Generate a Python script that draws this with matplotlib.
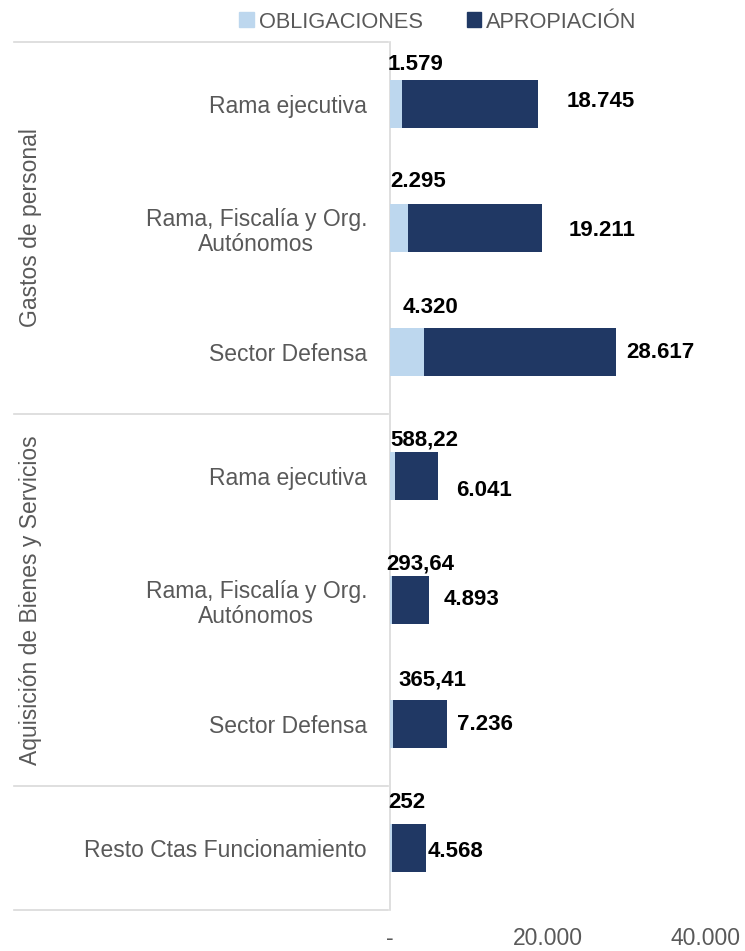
import numpy as np
import matplotlib.pyplot as plt
from matplotlib.patches import Patch
from matplotlib.transforms import blended_transform_factory

# data
categories = ["Rama ejecutiva", "Rama, Fiscalía y Org.\nAutónomos", "Sector Defensa",
              "Rama ejecutiva", "Rama, Fiscalía y Org.\nAutónomos", "Sector Defensa",
              "Resto Ctas Funcionamiento"]
obligaciones = [1579, 2295, 4320, 588.22, 293.64, 365.41, 252]
apropiacion = [18745, 19211, 28617, 6041, 4893, 7236, 4568]
obl_labels = ["1.579", "2.295", "4.320", "588,22", "293,64", "365,41", "252"]
apr_labels = ["18.745", "19.211", "28.617", "6.041", "4.893", "7.236", "4.568"]
groups = ["Gastos de personal", "Aquisición de Bienes y Servicios"]
group_rows = [(0, 2), (3, 5)]
xticks = [0, 20000, 40000]
xtick_labels = ["-", "20.000", "40.000"]

# label nudges (pixels)
obl_off = [(-2, 40), (0, 47), (13, 45), (0, 36), (-4, 36), (8, 44), (-2, 46)]
apr_off = [(29, 3), (27, -2), (10, 0), (18, -14), (15, 1), (10, 0), (2, -3)]

LIGHT = "#BDD7EE"
DARK = "#203864"
GRAY = "#595959"
LINE = "#D9D9D9"
txt_font = ["Liberation Sans", "DejaVu Sans"]
FS = 16.5

fig = plt.figure(figsize=(7.45, 9.51), dpi=100)
W, H = 745, 951
ax = fig.add_axes([390 / W, 41 / H, 355 / W, 868 / H])

y = np.arange(len(categories))
ax.barh(y, apropiacion, height=0.39, color=DARK, zorder=2)
ax.barh(y, obligaciones, height=0.39, color=LIGHT, zorder=3)

ax.set_xlim(0, 45000)
ax.set_ylim(len(categories) - 0.5, -0.5)

ax.set_yticks(y)
ax.set_yticklabels(categories, family=txt_font, fontsize=FS, color=GRAY,
                   ha="right", multialignment="center", linespacing=1.15)
ax.tick_params(axis="y", length=0, pad=16.5)
ax.set_xticks(xticks)
ax.set_xticklabels(xtick_labels, family=txt_font, fontsize=FS, color=GRAY)
ax.tick_params(axis="x", length=0, pad=12)

for s in ["top", "right", "bottom"]:
    ax.spines[s].set_visible(False)
ax.spines["left"].set_color(LINE)
ax.spines["left"].set_linewidth(1.2)

for i in range(len(categories)):
    ax.annotate(obl_labels[i], xy=(0, y[i]), xytext=obl_off[i], textcoords="offset pixels",
                ha="left", va="center", fontsize=16, fontweight="bold", family=txt_font, color="black")
    ax.annotate(apr_labels[i], xy=(apropiacion[i], y[i]), xytext=apr_off[i], textcoords="offset pixels",
                ha="left", va="center", fontsize=16, fontweight="bold", family=txt_font, color="black")

# group separators and labels
tr = blended_transform_factory(fig.transFigure, ax.transData)
for yy in [-0.5, 2.5, 5.5, 6.5]:
    ax.plot([14 / W, 388 / W], [yy, yy], transform=tr, color=LINE, lw=1.2, clip_on=False)
for g, (a, b) in zip(groups, group_rows):
    ax.text(31 / W, (a + b) / 2, g, transform=tr, rotation=90, ha="center", va="center",
            family=txt_font, fontsize=FS, color=GRAY)

handles = [Patch(color=LIGHT, label="OBLIGACIONES"), Patch(color=DARK, label="APROPIACIÓN")]
leg = fig.legend(handles=handles, loc="center", bbox_to_anchor=(438 / W, 1 - 22 / H), ncol=2,
                 frameon=False, handlelength=0.68, handleheight=0.68, handletextpad=0.22,
                 columnspacing=2.0, prop={"family": txt_font, "size": 15.7})
for t in leg.get_texts():
    t.set_color(GRAY)

fig.savefig("out.png", dpi=100)
